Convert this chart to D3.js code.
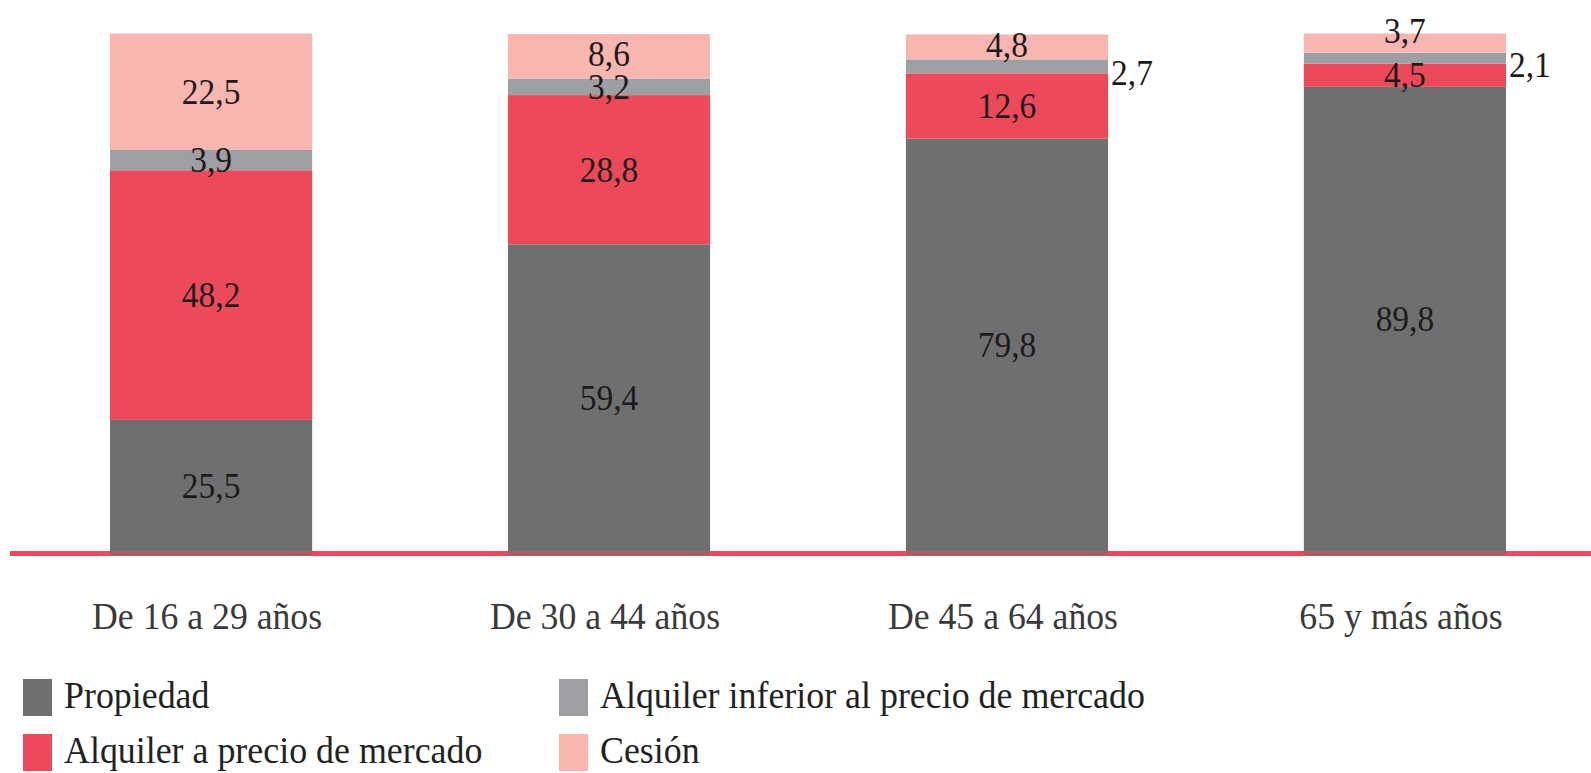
<!DOCTYPE html>
<html>
<head>
<meta charset="utf-8">
<script src="https://cdn.jsdelivr.net/npm/d3@7"></script>
<style>
  html, body { margin: 0; padding: 0; background: #ffffff; }
  svg { display: block; }
  text { font-family: "Liberation Serif", "DejaVu Serif", serif; }
</style>
</head>
<body>
<svg id="chart" width="1591" height="773"></svg>
<script>
// Tenure regime of households by age group (%)
const categories = ["De 16 a 29 años", "De 30 a 44 años", "De 45 a 64 años", "65 y más años"];
const seriesNames = ["Propiedad", "Alquiler a precio de mercado", "Alquiler inferior al precio de mercado", "Cesión"];
const propiedad = [25.5, 59.4, 79.8, 89.8];
const alquilerMercado = [48.2, 28.8, 12.6, 4.5];
const alquilerInferior = [3.9, 3.2, 2.7, 2.1];
const cesion = [22.5, 8.6, 4.8, 3.7];
const colors = ["#6f6f71", "#ec4a5b", "#9e9fa2", "#f7b6b0"];

const fmt = v => v.toFixed(1).replace(".", ",");

const rows = categories.map((c, i) => ({
  cat: c,
  [seriesNames[0]]: propiedad[i],
  [seriesNames[1]]: alquilerMercado[i],
  [seriesNames[2]]: alquilerInferior[i],
  [seriesNames[3]]: cesion[i]
}));

const svg = d3.select("#chart");
const baseY = 552, topY = 34;

const x = d3.scaleBand().domain(categories).range([110, 1506]).paddingInner(0.492).paddingOuter(0);
const y = d3.scaleLinear().domain([0, 100]).range([baseY, topY]);
const color = d3.scaleOrdinal().domain(seriesNames).range(colors);

const stacked = d3.stack().keys(seriesNames)(rows);

// baseline under the bars
svg.append("line")
  .attr("x1", 10).attr("x2", 1591)
  .attr("y1", baseY + 1.5).attr("y2", baseY + 1.5)
  .attr("stroke", "#ec4a5b").attr("stroke-width", 5);

// stacked bars
const layers = svg.append("g").selectAll("g")
  .data(stacked).join("g")
  .attr("fill", d => color(d.key));

layers.selectAll("rect")
  .data(d => d)
  .join("rect")
  .attr("x", d => x(d.data.cat))
  .attr("width", x.bandwidth())
  .attr("y", d => y(d[1]))
  .attr("height", d => (d[0] === 0 ? baseY + 4 : y(d[0])) - y(d[1]));

// baseline tint over the bars
svg.append("line")
  .attr("x1", 10).attr("x2", 1591)
  .attr("y1", baseY + 1.5).attr("y2", baseY + 1.5)
  .attr("stroke", "#ec4a5b").attr("stroke-width", 5).attr("stroke-opacity", 0.45);

// value labels
const labels = [];
stacked.forEach((layer, li) => {
  layer.forEach(d => {
    const v = d[1] - d[0];
    const cx = x(d.data.cat) + x.bandwidth() / 2;
    const cy = (y(d[0]) + y(d[1])) / 2;
    const isTop = li === stacked.length - 1;
    let lx = cx, ly = cy, anchor = "middle";
    if (v < 3) {             // thin middle slices: label beside the bar
      lx = x(d.data.cat) + x.bandwidth() + 3;
      ly = cy + 7;
      anchor = "start";
    } else if (isTop && v < 4) { // thin top slice: lift the label
      ly = cy - 12;
    } else if (isTop && v < 10) {
      ly = cy - 2;
    }
    labels.push({ text: fmt(v), x: lx, y: ly, anchor });
  });
});

svg.append("g").selectAll("text")
  .data(labels).join("text")
  .attr("transform", d => `translate(${d.x},${d.y}) scale(0.93,1)`)
  .attr("text-anchor", d => d.anchor)
  .attr("dominant-baseline", "central")
  .attr("font-size", 36)
  .attr("fill", "#1e1a1b")
  .text(d => d.text);

// category axis labels
const xAxis = svg.append("g")
  .attr("transform", `translate(0,${baseY})`)
  .call(d3.axisBottom(x).tickSize(0).tickPadding(0));
xAxis.select(".domain").remove();
xAxis.selectAll(".tick text")
  .attr("y", 0)
  .attr("dy", 0)
  .attr("transform", "translate(-4,64) scale(0.94,1)")
  .attr("dominant-baseline", "central")
  .attr("font-family", "Liberation Serif, serif")
  .attr("font-size", 38)
  .attr("fill", "#3a3a3a");

// legend: two columns, two rows
const legendPos = [
  { sx: 23, tx: 64, row: 0 },
  { sx: 23, tx: 64, row: 1 },
  { sx: 559, tx: 600, row: 0 },
  { sx: 559, tx: 600, row: 1 }
];
const legend = svg.append("g").selectAll("g")
  .data(seriesNames).join("g")
  .attr("transform", (d, i) => `translate(0,${679 + legendPos[i].row * 55})`);

legend.append("rect")
  .attr("x", (d, i) => legendPos[i].sx)
  .attr("y", 0)
  .attr("width", 29).attr("height", 37)
  .attr("fill", d => color(d));

legend.append("text")
  .attr("transform", (d, i) => `translate(${legendPos[i].tx},${17}) scale(0.97,1)`)
  .attr("dominant-baseline", "central")
  .attr("font-size", 37)
  .attr("fill", "#222")
  .text(d => d);
</script>
</body>
</html>
